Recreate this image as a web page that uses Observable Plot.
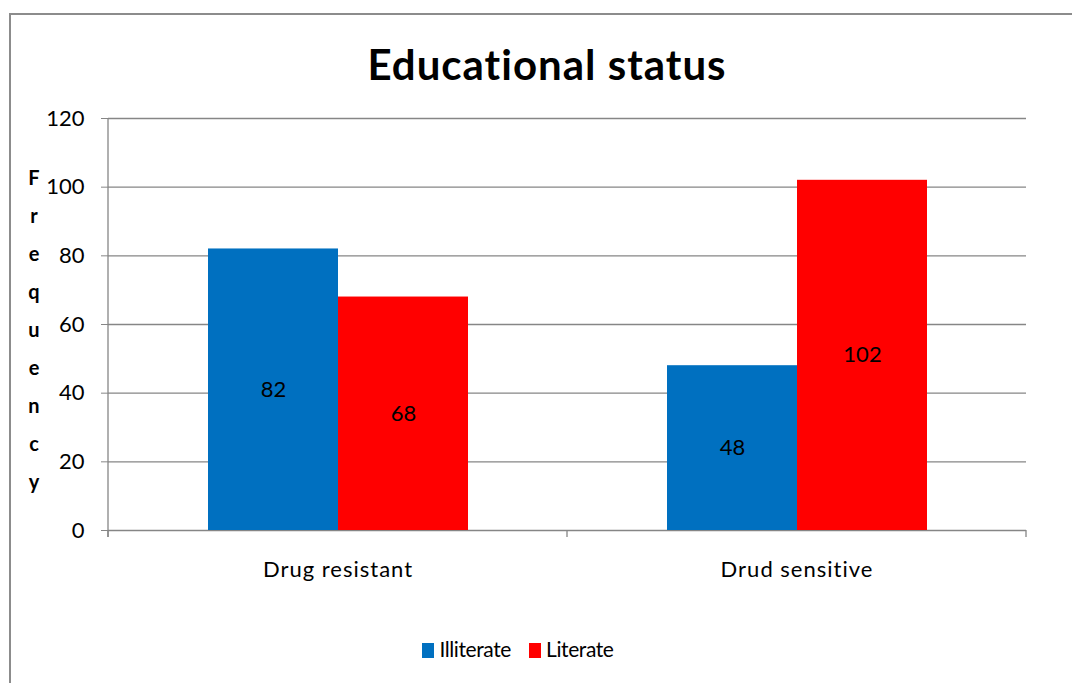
<!DOCTYPE html>
<html>
<head>
<meta charset="utf-8">
<script src="https://cdn.jsdelivr.net/npm/d3@7"></script>
<script src="https://cdn.jsdelivr.net/npm/@observablehq/plot@0.6"></script>
<style>
  body { margin: 0; background: #fff; font-family: Lato, "Open Sans", sans-serif; font-variant-ligatures: none; }
  #chart { position: relative; width: 1072px; height: 683px; overflow: hidden; background: #fff; }
  #border { position: absolute; left: 9px; top: 13px; width: 1120px; height: 720px; border: 2px solid #8c8c8c; box-sizing: border-box; }
  #title { position: absolute; left: 0; width: 1094px; top: 44px; text-align: center; font-weight: bold; font-size: 42px; letter-spacing: 1px; line-height: 40px; color: #000; }
  #ylabel { position: absolute; left: 24px; width: 20px; top: 158px; text-align: center; font-weight: bold; font-size: 20px; line-height: 38px; color: #000; }
  #plot { position: absolute; left: 0; top: 100px; }
  #legend { position: absolute; left: 0; width: 1036px; top: 636px; text-align: center; font-size: 21px; letter-spacing: -0.4px; line-height: 26px; color: #000; }
  #legend .item { display: inline-block; margin: 0 9px; }
  #legend .swatch { display: inline-block; width: 12px; height: 15px; margin-right: 5px; vertical-align: -1px; }
  #plot svg text { font-variant-ligatures: none; }
  #plot svg g[aria-label^="fx-axis"] text { letter-spacing: 1px; }
</style>
</head>
<body>
<div id="chart">
  <div id="border"></div>
  <div id="title"></div>
  <div id="ylabel"></div>
  <div id="plot"></div>
  <div id="legend"></div>
</div>
<script>
// Frequency by education level, per drug-response group
const categories = ["Drug resistant", "Drud sensitive"];
const series = ["Illiterate", "Literate"];
const illiterate = [82, 48];
const literate = [68, 102];
const colors = ["#0070C0", "#FF0000"];
const yTicks = [0, 20, 40, 60, 80, 100, 120];
const titleText = "Educational status";
const yLabelText = "Frequency";

const seriesValues = [illiterate, literate];
const data = categories.flatMap((c, i) =>
  series.map((s, j) => ({category: c, series: s, value: seriesValues[j][i]}))
);

document.getElementById("title").textContent = titleText;
document.getElementById("ylabel").innerHTML = [...yLabelText].map(ch => `<div>${ch}</div>`).join("");

const axisColor = "#868686";

const plot = Plot.plot({
  width: 1072,
  height: 500,
  marginTop: 18,
  marginBottom: 70,
  marginLeft: 107,
  marginRight: 46,
  style: {fontFamily: "Lato, 'Open Sans', sans-serif", fontSize: "22px", color: "#000", background: "transparent", overflow: "visible"},
  fx: {domain: categories, padding: 0, label: null},
  x: {domain: series, paddingInner: 0, paddingOuter: 0.756, axis: null},
  y: {domain: [0, 120], axis: null},
  color: {domain: series, range: colors},
  marks: [
    // horizontal gridlines (repeated in each category panel, panels touch)
    Plot.gridY({ticks: yTicks, stroke: axisColor, strokeOpacity: 1, strokeWidth: 1.3}),
    Plot.barY(data, {fx: "category", x: "series", y: "value", fill: "series"}),
    Plot.text(data, Plot.stackY({fx: "category", x: "series", y: "value", text: d => String(d.value), fill: "#000", fontSize: 22})),
    Plot.axisY({ticks: yTicks, tickSize: 7, tickPadding: 17, fontSize: 22, stroke: axisColor, label: null}),
    Plot.axisFx({anchor: "bottom", tickSize: 0, tickPadding: 31, fontSize: 22, label: null})
  ]
});

// Vertical axis line and tick marks at the category boundaries, placed with the plot's scales
const svg = d3.select(plot.tagName.toLowerCase() === "svg" ? plot : plot.querySelector("svg"));
const yScale = plot.scale("y");
const fxScale = plot.scale("fx");
const y0 = yScale.apply(0);
const yTop = yScale.apply(yTicks[yTicks.length - 1]);
const bounds = [...categories.map(c => fxScale.apply(c)),
  fxScale.apply(categories[categories.length - 1]) + fxScale.bandwidth];
const lines = svg.append("g").attr("stroke", axisColor).attr("stroke-width", 1.3);
lines.append("line").attr("x1", bounds[0]).attr("x2", bounds[0]).attr("y1", yTop).attr("y2", y0 + 7);
bounds.forEach(bx => lines.append("line").attr("x1", bx).attr("x2", bx).attr("y1", y0).attr("y2", y0 + 7));

document.getElementById("plot").appendChild(plot);

document.getElementById("legend").innerHTML = series.map((s, i) =>
  `<span class="item"><span class="swatch" style="background:${colors[i]}"></span>${s}</span>`
).join("");
</script>
</body>
</html>
